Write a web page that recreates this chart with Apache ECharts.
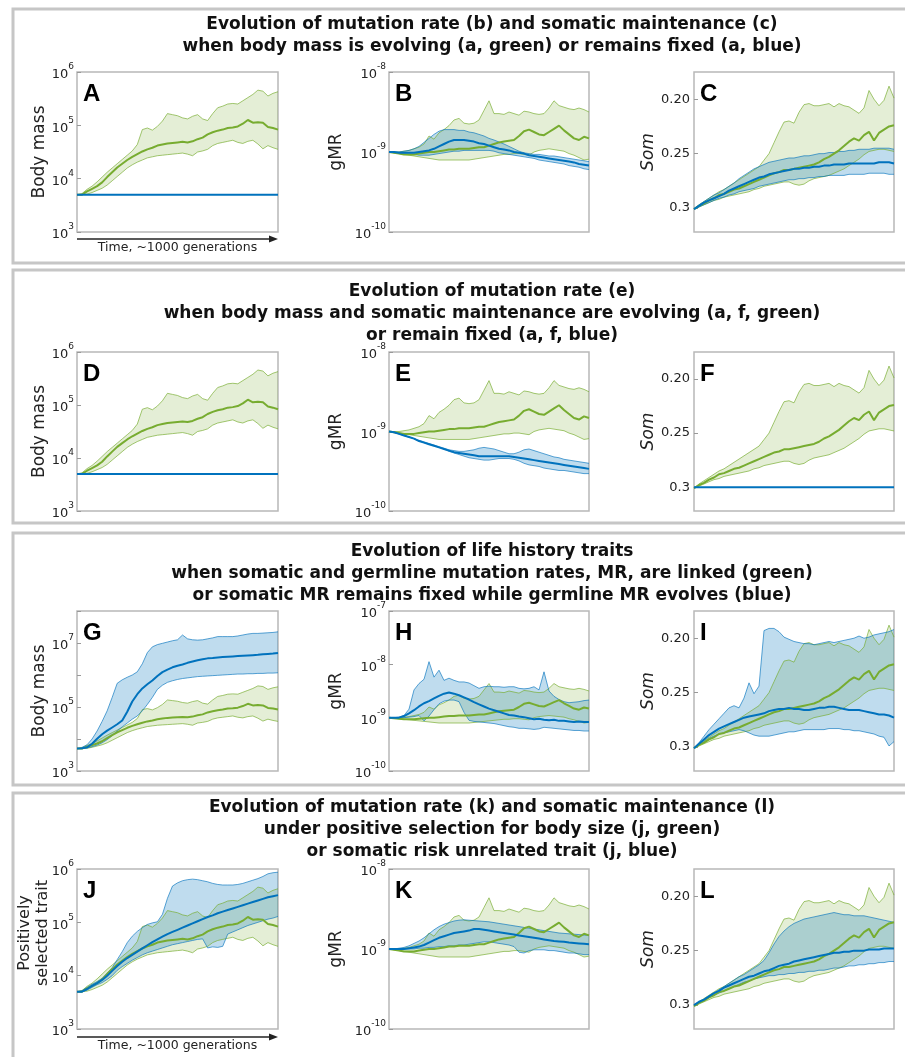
<!DOCTYPE html>
<html><head><meta charset="utf-8">
<script src="https://cdn.jsdelivr.net/npm/echarts@6/dist/echarts.min.js"></script>
<style>html,body{margin:0;padding:0;background:#fff}#c{width:905px;height:1057px}</style>
</head><body><div id="c"></div><script>
// ---------- DATA (time index 0..40, ~1000 generations) ----------
// log10 body mass, green = body mass evolving (shared by A, D, G, J)
const greenBodyMeanLog = [3.70,3.70,3.76,3.81,3.86,3.93,4.03,4.12,4.21,4.28,4.35,4.41,4.46,4.51,4.55,4.58,4.62,4.64,4.66,4.67,4.68,4.69,4.68,4.70,4.74,4.77,4.83,4.87,4.90,4.92,4.95,4.96,4.98,5.03,5.10,5.05,5.06,5.05,4.97,4.95,4.92];
const greenBodyUpperLog = [3.70,3.72,3.80,3.86,3.94,4.03,4.12,4.20,4.28,4.36,4.44,4.52,4.64,4.92,4.95,4.91,4.98,5.08,5.22,5.20,5.18,5.14,5.12,5.17,5.20,5.12,5.09,5.22,5.33,5.36,5.40,5.41,5.40,5.46,5.52,5.58,5.66,5.64,5.55,5.60,5.63];
const greenBodyLowerLog = [3.70,3.70,3.71,3.74,3.78,3.82,3.88,3.96,4.04,4.12,4.20,4.26,4.31,4.35,4.39,4.41,4.43,4.44,4.45,4.46,4.47,4.48,4.46,4.43,4.50,4.52,4.55,4.62,4.66,4.68,4.70,4.72,4.68,4.66,4.70,4.72,4.65,4.56,4.62,4.58,4.55];
// log10 gMR, green (shared by B, E, H, K)
const greenGmrMeanLog = [-9.00,-9.01,-9.02,-9.03,-9.03,-9.03,-9.02,-9.01,-9.00,-9.00,-8.99,-8.98,-8.97,-8.97,-8.96,-8.96,-8.96,-8.95,-8.94,-8.94,-8.92,-8.90,-8.88,-8.87,-8.86,-8.85,-8.80,-8.74,-8.72,-8.75,-8.78,-8.79,-8.75,-8.71,-8.67,-8.73,-8.78,-8.83,-8.85,-8.81,-8.83];
const greenGmrUpperLog = [-9.00,-9.00,-9.00,-8.99,-8.98,-8.96,-8.94,-8.90,-8.80,-8.84,-8.76,-8.72,-8.67,-8.60,-8.58,-8.64,-8.65,-8.64,-8.60,-8.48,-8.36,-8.52,-8.52,-8.53,-8.50,-8.52,-8.54,-8.49,-8.50,-8.52,-8.53,-8.52,-8.45,-8.36,-8.42,-8.44,-8.46,-8.47,-8.45,-8.47,-8.50];
const greenGmrLowerLog = [-9.00,-9.01,-9.02,-9.03,-9.04,-9.05,-9.06,-9.07,-9.08,-9.09,-9.10,-9.10,-9.10,-9.10,-9.10,-9.10,-9.10,-9.09,-9.08,-9.07,-9.06,-9.05,-9.04,-9.03,-9.03,-9.02,-9.02,-9.03,-9.04,-9.00,-8.98,-8.97,-8.96,-8.97,-8.98,-8.99,-9.02,-9.04,-9.07,-9.10,-9.09];
// Som, green (shared by C, F, I, L)
const greenSomMean = [0.301,0.298,0.296,0.293,0.291,0.288,0.287,0.285,0.283,0.282,0.280,0.278,0.276,0.274,0.272,0.270,0.268,0.267,0.265,0.265,0.264,0.263,0.262,0.261,0.260,0.258,0.255,0.253,0.250,0.247,0.243,0.239,0.236,0.238,0.233,0.230,0.238,0.231,0.228,0.225,0.224];
const greenSomUpper = [0.301,0.297,0.294,0.291,0.288,0.285,0.283,0.280,0.277,0.274,0.271,0.268,0.265,0.262,0.256,0.250,0.240,0.230,0.221,0.220,0.222,0.212,0.205,0.204,0.206,0.206,0.205,0.204,0.207,0.204,0.206,0.207,0.210,0.213,0.208,0.192,0.200,0.206,0.201,0.188,0.199];
const greenSomLower = [0.301,0.299,0.297,0.295,0.293,0.292,0.290,0.289,0.288,0.287,0.286,0.285,0.283,0.282,0.280,0.279,0.278,0.277,0.276,0.276,0.278,0.279,0.278,0.275,0.273,0.272,0.271,0.270,0.268,0.266,0.264,0.261,0.258,0.255,0.251,0.248,0.247,0.246,0.246,0.247,0.248];
// fixed traits (blue)
const fixedBodyMass = 5000;
const fixedSom = 0.3;
// B: gMR, blue (body mass fixed)
const blueGmrBMeanLog = [-9.00,-9.00,-9.01,-9.01,-9.01,-9.01,-9.00,-8.99,-8.98,-8.96,-8.93,-8.90,-8.87,-8.85,-8.85,-8.85,-8.86,-8.87,-8.89,-8.90,-8.92,-8.94,-8.96,-8.97,-8.98,-9.00,-9.01,-9.02,-9.04,-9.05,-9.06,-9.07,-9.08,-9.09,-9.10,-9.11,-9.12,-9.13,-9.15,-9.16,-9.17];
const blueGmrBUpperLog = [-9.00,-9.00,-9.00,-8.99,-8.98,-8.96,-8.93,-8.88,-8.83,-8.78,-8.74,-8.72,-8.72,-8.72,-8.73,-8.73,-8.75,-8.76,-8.78,-8.80,-8.83,-8.85,-8.875,-8.90,-8.93,-8.96,-8.99,-9.01,-9.02,-9.03,-9.03,-9.04,-9.05,-9.05,-9.06,-9.07,-9.08,-9.09,-9.10,-9.11,-9.12];
const blueGmrBLowerLog = [-9.00,-9.01,-9.02,-9.02,-9.03,-9.03,-9.04,-9.04,-9.04,-9.03,-9.02,-9.01,-9.00,-8.99,-8.99,-8.98,-8.98,-8.98,-8.98,-8.98,-8.98,-8.99,-9.01,-9.02,-9.03,-9.04,-9.05,-9.06,-9.07,-9.08,-9.10,-9.11,-9.12,-9.13,-9.14,-9.15,-9.17,-9.18,-9.19,-9.21,-9.22];
// C: Som, blue
const blueSomCMean = [0.301,0.298,0.295,0.293,0.291,0.289,0.287,0.284,0.282,0.280,0.278,0.276,0.274,0.272,0.271,0.269,0.268,0.267,0.266,0.265,0.264,0.264,0.263,0.263,0.262,0.262,0.261,0.261,0.260,0.260,0.260,0.259,0.259,0.259,0.259,0.259,0.259,0.258,0.258,0.258,0.259];
const blueSomCUpper = [0.301,0.297,0.294,0.291,0.288,0.286,0.283,0.280,0.277,0.273,0.270,0.267,0.264,0.262,0.260,0.258,0.257,0.256,0.255,0.254,0.254,0.253,0.252,0.252,0.251,0.250,0.250,0.249,0.249,0.248,0.248,0.247,0.247,0.246,0.246,0.246,0.245,0.245,0.245,0.245,0.246];
const blueSomCLower = [0.301,0.299,0.297,0.295,0.293,0.291,0.290,0.288,0.287,0.285,0.284,0.283,0.282,0.280,0.279,0.278,0.277,0.276,0.275,0.274,0.274,0.273,0.273,0.272,0.272,0.271,0.271,0.270,0.270,0.270,0.270,0.269,0.269,0.269,0.269,0.268,0.268,0.268,0.268,0.269,0.269];
// E: gMR, blue (body mass and Som fixed)
const blueGmrEMeanLog = [-9.00,-9.01,-9.03,-9.05,-9.07,-9.09,-9.12,-9.14,-9.16,-9.18,-9.20,-9.22,-9.24,-9.26,-9.27,-9.28,-9.29,-9.30,-9.31,-9.31,-9.31,-9.31,-9.31,-9.31,-9.31,-9.32,-9.33,-9.34,-9.35,-9.36,-9.37,-9.38,-9.39,-9.40,-9.41,-9.42,-9.43,-9.44,-9.45,-9.46,-9.47];
const blueGmrEUpperLog = [-9.00,-9.01,-9.03,-9.05,-9.07,-9.09,-9.11,-9.13,-9.15,-9.17,-9.19,-9.21,-9.23,-9.24,-9.25,-9.25,-9.24,-9.23,-9.21,-9.20,-9.21,-9.22,-9.24,-9.26,-9.28,-9.28,-9.26,-9.23,-9.22,-9.24,-9.26,-9.28,-9.30,-9.32,-9.33,-9.35,-9.36,-9.37,-9.38,-9.39,-9.40];
const blueGmrELowerLog = [-9.00,-9.01,-9.03,-9.05,-9.07,-9.09,-9.12,-9.14,-9.16,-9.18,-9.20,-9.22,-9.25,-9.27,-9.29,-9.31,-9.33,-9.34,-9.35,-9.36,-9.36,-9.35,-9.34,-9.34,-9.34,-9.35,-9.37,-9.40,-9.42,-9.43,-9.44,-9.46,-9.47,-9.48,-9.49,-9.49,-9.50,-9.51,-9.52,-9.53,-9.53];
// G: body mass, blue (somatic MR fixed)
const blueBodyGMeanLog = [3.70,3.71,3.74,3.85,4.01,4.15,4.26,4.36,4.46,4.58,4.85,5.17,5.40,5.58,5.71,5.83,5.97,6.09,6.17,6.24,6.29,6.33,6.38,6.42,6.46,6.49,6.52,6.53,6.55,6.56,6.57,6.58,6.59,6.60,6.61,6.62,6.63,6.65,6.66,6.67,6.69];
const blueBodyGUpperLog = [3.70,3.74,3.82,4.00,4.25,4.55,4.88,5.30,5.74,5.85,5.93,6.00,6.10,6.35,6.70,6.88,6.95,6.99,7.03,7.07,7.10,7.25,7.13,7.10,7.09,7.10,7.13,7.16,7.20,7.20,7.20,7.20,7.22,7.25,7.28,7.30,7.30,7.31,7.32,7.33,7.35];
const blueBodyGLowerLog = [3.70,3.70,3.72,3.76,3.81,3.88,3.98,4.10,4.25,4.38,4.50,4.62,4.72,4.88,5.08,5.30,5.55,5.68,5.77,5.82,5.86,5.89,5.91,5.93,5.95,5.96,5.97,5.98,5.99,6.00,6.01,6.02,6.03,6.03,6.04,6.04,6.05,6.05,6.06,6.06,6.07];
// H: gMR, blue
const blueGmrHMeanLog = [-9.00,-9.00,-9.00,-8.97,-8.92,-8.86,-8.79,-8.73,-8.69,-8.64,-8.59,-8.55,-8.53,-8.55,-8.58,-8.62,-8.66,-8.71,-8.75,-8.79,-8.83,-8.86,-8.89,-8.92,-8.95,-8.96,-8.98,-8.99,-9.01,-9.03,-9.02,-9.04,-9.05,-9.04,-9.06,-9.06,-9.07,-9.08,-9.07,-9.08,-9.08];
const blueGmrHUpperLog = [-9.00,-9.00,-8.99,-8.96,-8.84,-8.48,-8.36,-8.28,-7.95,-8.24,-8.11,-8.30,-8.26,-8.30,-8.33,-8.33,-8.35,-8.40,-8.45,-8.42,-8.41,-8.42,-8.42,-8.43,-8.42,-8.42,-8.45,-8.46,-8.45,-8.42,-8.48,-8.14,-8.50,-8.60,-8.66,-8.70,-8.72,-8.71,-8.70,-8.68,-8.67];
const blueGmrHLowerLog = [-9.00,-9.01,-9.01,-9.00,-8.99,-8.98,-8.96,-9.06,-8.97,-8.85,-8.74,-8.69,-8.67,-8.67,-8.70,-8.90,-9.05,-9.07,-9.08,-9.09,-9.10,-9.11,-9.13,-9.15,-9.17,-9.18,-9.20,-9.20,-9.21,-9.22,-9.21,-9.18,-9.19,-9.20,-9.21,-9.22,-9.23,-9.24,-9.24,-9.25,-9.25];
// I: Som, blue
const blueSomIMean = [0.301,0.297,0.293,0.289,0.286,0.283,0.281,0.279,0.277,0.275,0.273,0.272,0.271,0.270,0.269,0.267,0.266,0.265,0.265,0.264,0.265,0.265,0.266,0.266,0.265,0.264,0.264,0.263,0.263,0.264,0.265,0.266,0.266,0.266,0.267,0.268,0.269,0.270,0.270,0.271,0.273];
const blueSomIUpper = [0.301,0.296,0.290,0.284,0.279,0.274,0.269,0.264,0.262,0.264,0.255,0.241,0.251,0.244,0.193,0.191,0.191,0.194,0.199,0.201,0.203,0.204,0.205,0.205,0.206,0.205,0.204,0.203,0.204,0.203,0.202,0.201,0.200,0.198,0.200,0.199,0.197,0.196,0.195,0.194,0.192];
const blueSomILower = [0.301,0.298,0.295,0.292,0.290,0.288,0.287,0.286,0.285,0.284,0.285,0.287,0.289,0.290,0.290,0.290,0.289,0.288,0.287,0.286,0.286,0.285,0.284,0.284,0.284,0.284,0.284,0.283,0.283,0.283,0.284,0.284,0.285,0.285,0.286,0.287,0.288,0.290,0.291,0.299,0.295];
// J: positively selected trait, blue (somatic risk unrelated trait)
const blueTraitJMeanLog = [3.70,3.70,3.75,3.81,3.86,3.92,4.00,4.09,4.18,4.26,4.33,4.39,4.45,4.51,4.57,4.63,4.68,4.73,4.78,4.82,4.86,4.90,4.94,4.98,5.02,5.06,5.10,5.13,5.17,5.20,5.23,5.26,5.29,5.32,5.35,5.38,5.41,5.44,5.47,5.49,5.51];
const blueTraitJUpperLog = [3.70,3.72,3.78,3.84,3.89,3.95,4.05,4.15,4.30,4.45,4.62,4.74,4.83,4.90,4.96,4.99,5.01,5.15,5.45,5.68,5.74,5.78,5.80,5.81,5.80,5.78,5.76,5.73,5.71,5.70,5.70,5.70,5.71,5.73,5.76,5.79,5.82,5.86,5.91,5.93,5.94];
const blueTraitJLowerLog = [3.70,3.70,3.73,3.78,3.83,3.87,3.93,4.00,4.10,4.17,4.23,4.29,4.34,4.39,4.43,4.46,4.49,4.52,4.55,4.58,4.60,4.62,4.64,4.66,4.68,4.69,4.52,4.54,4.53,4.55,4.78,4.82,4.86,4.90,4.94,4.97,5.00,5.03,5.06,5.08,5.11];
// K: gMR, blue
const blueGmrKMeanLog = [-9.00,-9.00,-9.00,-9.00,-8.99,-8.98,-8.97,-8.95,-8.92,-8.89,-8.86,-8.84,-8.82,-8.80,-8.79,-8.78,-8.77,-8.75,-8.75,-8.76,-8.77,-8.78,-8.79,-8.80,-8.81,-8.82,-8.83,-8.84,-8.85,-8.86,-8.87,-8.88,-8.89,-8.90,-8.905,-8.91,-8.92,-8.925,-8.93,-8.935,-8.94];
const blueGmrKUpperLog = [-9.00,-9.00,-8.99,-8.98,-8.96,-8.93,-8.90,-8.86,-8.81,-8.76,-8.72,-8.69,-8.67,-8.65,-8.64,-8.635,-8.64,-8.645,-8.65,-8.655,-8.66,-8.67,-8.68,-8.69,-8.70,-8.71,-8.72,-8.73,-8.74,-8.75,-8.76,-8.77,-8.78,-8.79,-8.80,-8.805,-8.81,-8.815,-8.82,-8.825,-8.83];
const blueGmrKLowerLog = [-9.00,-9.00,-9.00,-9.00,-9.00,-9.00,-8.99,-8.99,-8.98,-8.98,-8.97,-8.97,-8.96,-8.96,-8.95,-8.95,-8.94,-8.93,-8.92,-8.91,-8.91,-8.92,-8.93,-8.94,-8.95,-8.97,-9.04,-9.05,-9.02,-9.01,-9.01,-9.01,-9.02,-9.02,-9.03,-9.04,-9.05,-9.05,-9.06,-9.07,-9.07];
// L: Som, blue
const blueSomLMean = [0.300,0.297,0.295,0.292,0.289,0.287,0.284,0.282,0.280,0.278,0.276,0.274,0.273,0.271,0.269,0.268,0.266,0.264,0.263,0.262,0.260,0.259,0.258,0.257,0.256,0.255,0.254,0.253,0.252,0.252,0.251,0.251,0.250,0.250,0.250,0.249,0.249,0.249,0.248,0.248,0.248];
const blueSomLUpper = [0.300,0.297,0.295,0.292,0.289,0.286,0.283,0.280,0.277,0.274,0.272,0.269,0.266,0.263,0.259,0.252,0.244,0.237,0.232,0.228,0.225,0.223,0.221,0.220,0.219,0.218,0.217,0.216,0.215,0.216,0.217,0.217,0.218,0.218,0.218,0.219,0.220,0.221,0.222,0.223,0.224];
const blueSomLLower = [0.300,0.298,0.296,0.293,0.291,0.289,0.287,0.285,0.283,0.281,0.279,0.278,0.276,0.275,0.274,0.273,0.273,0.272,0.272,0.271,0.271,0.270,0.270,0.269,0.269,0.268,0.268,0.267,0.266,0.266,0.265,0.264,0.264,0.263,0.263,0.262,0.262,0.261,0.261,0.260,0.260];
// tick labels
const somTicks = [0.20, 0.25, 0.3];
const panelTitles = [
  'Evolution of mutation rate (b) and somatic maintenance (c)\nwhen body mass is evolving (a, green) or remains fixed (a, blue)',
  'Evolution of mutation rate (e)\nwhen body mass and somatic maintenance are evolving (a, f, green)\nor remain fixed (a, f, blue)',
  'Evolution of life history traits\nwhen somatic and germline mutation rates, MR, are linked (green)\nor somatic MR remains fixed while germline MR evolves (blue)',
  'Evolution of mutation rate (k) and somatic maintenance (l)\nunder positive selection for body size (j, green)\nor somatic risk unrelated trait (j, blue)'
];
const timeLabel = 'Time, ~1000 generations';
const traitLabel = 'Positively\nselected trait';

// ---------- LAYOUT ----------
const GREEN = '#77AC30', BLUE = '#0072BD';
const colLeft = [77, 389, 694], colWidth = [201, 200, 200];
const rowTop = [72, 352, 611, 869], rowHeight = [160, 159, 160, 160];
const titleTop = [14, 281, 541, 797];
const panelBox = [[9, 254], [270, 253], [533, 252], [793, 280]];

const pw = a => a.map(v => Math.pow(10, v));
const gBody = [pw(greenBodyMeanLog), pw(greenBodyUpperLog), pw(greenBodyLowerLog)];
const gGmr = [pw(greenGmrMeanLog), pw(greenGmrUpperLog), pw(greenGmrLowerLog)];
const gSom = [greenSomMean, greenSomUpper, greenSomLower];

const panels = [
  {L:'A', r:0, c:0, y:'body', green:gBody, flat:fixedBodyMass},
  {L:'B', r:0, c:1, y:'gmr', green:gGmr, blue:[pw(blueGmrBMeanLog), pw(blueGmrBUpperLog), pw(blueGmrBLowerLog)]},
  {L:'C', r:0, c:2, y:'som', green:gSom, blue:[blueSomCMean, blueSomCUpper, blueSomCLower]},
  {L:'D', r:1, c:0, y:'body', green:gBody, flat:fixedBodyMass},
  {L:'E', r:1, c:1, y:'gmr', green:gGmr, blue:[pw(blueGmrEMeanLog), pw(blueGmrEUpperLog), pw(blueGmrELowerLog)]},
  {L:'F', r:1, c:2, y:'som', green:gSom, flat:fixedSom},
  {L:'G', r:2, c:0, y:'bodyG', green:gBody, blue:[pw(blueBodyGMeanLog), pw(blueBodyGUpperLog), pw(blueBodyGLowerLog)]},
  {L:'H', r:2, c:1, y:'gmrH', green:gGmr, blue:[pw(blueGmrHMeanLog), pw(blueGmrHUpperLog), pw(blueGmrHLowerLog)]},
  {L:'I', r:2, c:2, y:'som', green:gSom, blue:[blueSomIMean, blueSomIUpper, blueSomILower]},
  {L:'J', r:3, c:0, y:'bodyJ', green:gBody, blue:[pw(blueTraitJMeanLog), pw(blueTraitJUpperLog), pw(blueTraitJLowerLog)]},
  {L:'K', r:3, c:1, y:'gmr', green:gGmr, blue:[pw(blueGmrKMeanLog), pw(blueGmrKUpperLog), pw(blueGmrKLowerLog)]},
  {L:'L', r:3, c:2, y:'som', green:gSom, blue:[blueSomLMean, blueSomLUpper, blueSomLLower]}
];

const FONT = 'DejaVu Sans';
const rich = {
  b: {fontFamily: FONT, fontSize: 13, color: '#222', lineHeight: 19, verticalAlign: 'bottom'},
  s: {fontFamily: FONT, fontSize: 9, color: '#222', lineHeight: 10, verticalAlign: 'top'}
};
function powFmt(onlyOdd) {
  return function (v) {
    const e = Math.round(Math.log10(v));
    if (onlyOdd && e % 2 === 0) return '';
    return '{b|10}{s|' + e + '}';
  };
}
function yAxisFor(p, gi) {
  const base = {
    gridIndex: gi, axisLine: {show: false}, splitLine: {show: false},
    axisTick: {show: true, inside: true, length: 4, lineStyle: {color: '#999', width: 1}},
    nameLocation: 'middle', nameRotate: 90,
    nameTextStyle: {fontFamily: FONT, fontSize: 17, color: '#222'}
  };
  if (p.y === 'som') {
    return Object.assign(base, {
      type: 'value', inverse: true, min: 0.175, max: 0.322,
      axisLabel: {customValues: somTicks, margin: 4, fontFamily: FONT, fontSize: 13, color: '#222',
        formatter: v => (Math.abs(v - 0.3) < 1e-9 ? '0.3' : v.toFixed(2))},
      axisTick: {show: true, inside: true, length: 4, customValues: somTicks, lineStyle: {color: '#999'}},
      name: 'Som', nameGap: 37,
      nameTextStyle: {fontFamily: FONT, fontSize: 17, color: '#222', fontStyle: 'italic'}
    });
  }
  const isG = p.y === 'bodyG';
  const lim = {body: [1e3, 1e6], bodyG: [1e3, 1e8], bodyJ: [1e3, 1e6], gmr: [1e-10, 1e-8], gmrH: [1e-10, 1e-7]}[p.y];
  const ax = Object.assign(base, {
    type: 'log', logBase: 10, min: lim[0], max: lim[1],
    axisLabel: {formatter: powFmt(isG), rich: rich, margin: 3}
  });
  if (p.y === 'body' || p.y === 'bodyG') { ax.name = 'Body mass'; ax.nameGap = 29; }
  if (p.y.startsWith('gmr')) { ax.name = 'gMR'; ax.nameGap = 44; }
  return ax;
}

function band(gi, up, lo, color, op) {
  return {
    type: 'custom', xAxisIndex: gi, yAxisIndex: gi, silent: true, z: 1,
    data: [[0, up[0]]],
    renderItem: function (params, api) {
      const pts = [];
      for (let i = 0; i < up.length; i++) pts.push(api.coord([i, up[i]]));
      for (let i = lo.length - 1; i >= 0; i--) pts.push(api.coord([i, lo[i]]));
      return {type: 'polygon', shape: {points: pts}, style: {fill: color, opacity: op}};
    }
  };
}
function line(gi, arr, color, w, op, z) {
  return {
    type: 'line', xAxisIndex: gi, yAxisIndex: gi, silent: true, z: z,
    data: arr.map((v, i) => [i, v]), showSymbol: false, symbol: 'none',
    lineStyle: {color: color, width: w, opacity: op}
  };
}

const grids = [], xAxes = [], yAxes = [], series = [], graphics = [];
panels.forEach((p, gi) => {
  grids.push({left: colLeft[p.c], top: rowTop[p.r], width: colWidth[p.c], height: rowHeight[p.r],
    show: true, borderColor: '#b8b8b8', borderWidth: 1.5, containLabel: false});
  xAxes.push({gridIndex: gi, type: 'value', min: 0, max: 40, axisLine: {show: false},
    axisTick: {show: false}, axisLabel: {show: false}, splitLine: {show: false}});
  yAxes.push(yAxisFor(p, gi));
  series.push(band(gi, p.green[1], p.green[2], GREEN, 0.2));
  if (p.blue) series.push(band(gi, p.blue[1], p.blue[2], BLUE, 0.25));
  series.push(line(gi, p.green[1], GREEN, 0.8, 0.85, 3));
  series.push(line(gi, p.green[2], GREEN, 0.8, 0.85, 3));
  if (p.blue) {
    series.push(line(gi, p.blue[1], BLUE, 0.8, 0.8, 3));
    series.push(line(gi, p.blue[2], BLUE, 0.8, 0.8, 3));
  }
  series.push(line(gi, p.green[0], GREEN, 2, 1, 4));
  if (p.blue) series.push(line(gi, p.blue[0], BLUE, 2, 1, 5));
  if (p.flat !== undefined) {
    const s = line(gi, [], BLUE, 2, 1, 5);
    s.data = [[0, p.flat], [40, p.flat]];
    series.push(s);
  }
  graphics.push({type: 'text', z: 10, style: {text: p.L, x: colLeft[p.c] + 6, y: rowTop[p.r] + 22,
    verticalAlign: 'middle', font: 'bold 24px "Liberation Sans"', fill: '#000'}});
});

// two-line axis name of panel J
graphics.push({type: 'text', z: 10, x: 34, y: rowTop[3] + 64, rotation: Math.PI / 2,
  style: {text: traitLabel, align: 'center', verticalAlign: 'middle', lineHeight: 18,
    font: '16px "DejaVu Sans"', fill: '#222'}});

panelBox.forEach(b => graphics.push({type: 'rect', z: 0, shape: {x: 13, y: b[0], width: 905, height: b[1]},
  style: {fill: 'none', stroke: '#c6c6c6', lineWidth: 3}}));
[[0, 239, 248], [3, 1037, 1046]].forEach(a => {
  const x0 = colLeft[0], x1 = colLeft[0] + colWidth[0];
  graphics.push({type: 'line', z: 10, shape: {x1: x0, y1: a[1], x2: x1 - 6, y2: a[1]}, style: {stroke: '#222', lineWidth: 1.3}});
  graphics.push({type: 'polygon', z: 10, shape: {points: [[x1, a[1]], [x1 - 9, a[1] - 3.5], [x1 - 9, a[1] + 3.5]]}, style: {fill: '#222'}});
  graphics.push({type: 'text', z: 10, style: {text: timeLabel, x: (x0 + x1) / 2, y: a[2], align: 'center',
    verticalAlign: 'middle', font: '12.5px "DejaVu Sans"', fill: '#222'}});
});

const chart = echarts.init(document.getElementById('c'), null, {renderer: 'canvas'});
chart.setOption({
  animation: false,
  backgroundColor: '#fff',
  title: panelTitles.map((t, i) => ({text: t, left: 492, top: titleTop[i], textAlign: 'center', padding: 0,
    textStyle: {fontFamily: FONT, fontSize: 17, fontWeight: 'bold', color: '#111', lineHeight: 22}})),
  grid: grids, xAxis: xAxes, yAxis: yAxes, series: series, graphic: graphics
});
</script></body></html>
